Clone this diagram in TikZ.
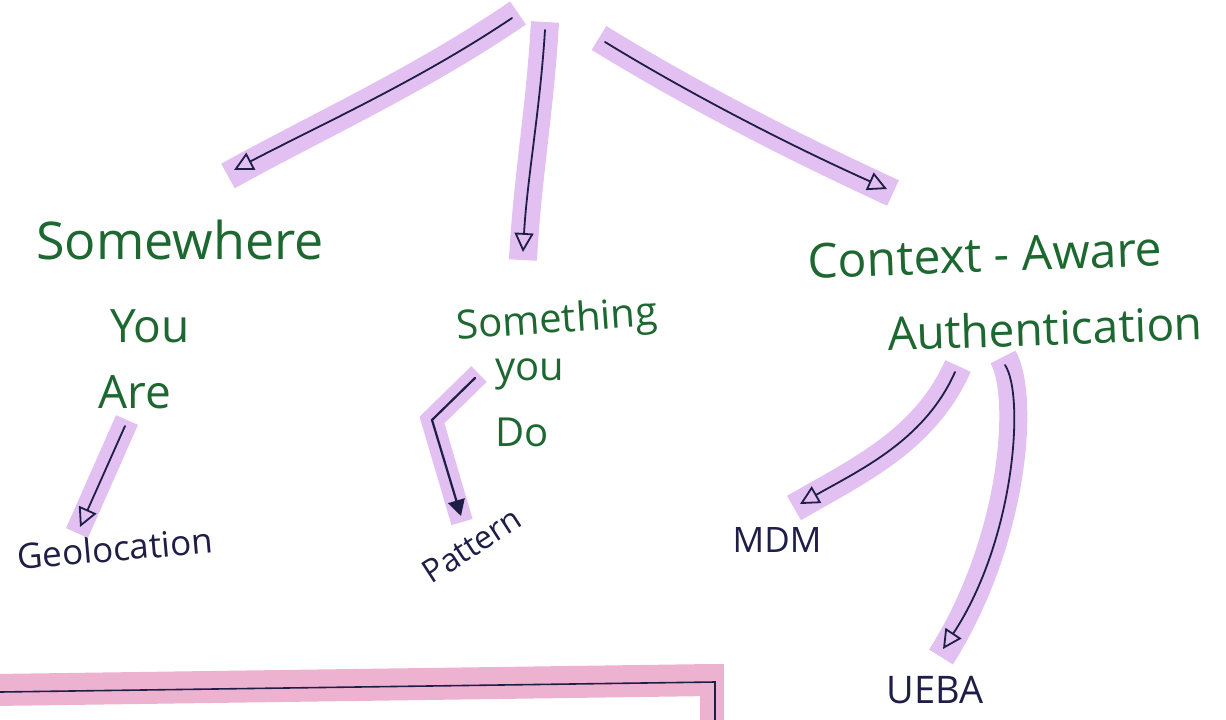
\documentclass[tikz,border=0pt]{standalone}
\usepackage{fontspec}
\setmainfont{Open Sans}
\usetikzlibrary{arrows.meta}
\definecolor{ink}{RGB}{28,104,48}
\definecolor{pen}{RGB}{30,30,72}
\definecolor{lav}{RGB}{226,192,242}
\definecolor{rose}{RGB}{236,178,208}
\begin{document}
\begin{tikzpicture}[x=1pt,y=-1pt,
  lbl/.style={font=\fontsize{#1}{#1}\selectfont, text=ink, inner sep=0pt},
  sub/.style={font=\fontsize{#1}{#1}\selectfont, text=pen, inner sep=0pt},
  band/.style={draw=lav, line width=28pt, line cap=butt},
  arr/.style={draw=pen, line width=1.8pt, line cap=round,
    -{Triangle[open,length=19pt,width=19pt,line width=1.8pt]}},
  farr/.style={draw=pen, line width=2.2pt, line cap=round,
    -{Triangle[length=16pt,width=17pt]}}
]
\useasboundingbox[fill=white] (0,0) rectangle (1226,720);

% green category labels
\node[lbl=52] (some1) at (180,240) {Somewhere};
\node[lbl=46] (some2) at (150,326) {You};
\node[lbl=46] (some3) at (135,392) {Are};
\node[lbl=40, rotate=4] (thing1) at (557,322) {Something};
\node[lbl=40] (thing2) at (530,374) {you};
\node[lbl=40] (thing3) at (522,432) {Do};
\node[lbl=48, rotate=2] (ctx1) at (985,255) {Context - Aware};
\node[lbl=46, rotate=2] (ctx2) at (1045,328) {Authentication};

% dark leaf labels
\node[sub=35, rotate=5] (geo) at (115,548) {Geolocation};
\node[sub=32, rotate=33] (pat) at (472,545) {Pattern};
\node[sub=35] (mdm) at (777,540) {MDM};
\node[sub=38] (ueba) at (935,690) {UEBA};

% arrow end points
\coordinate (top1) at (512,18);
\coordinate (top2) at (545,30);
\coordinate (top3) at (605,42);
\coordinate (e1) at (234,170);
\coordinate (e2) at (523,252);
\coordinate (e3) at (887,189);
\coordinate (g0) at (125,426);
\coordinate (g1) at (80,527);
\coordinate (p0) at (475,378);
\coordinate (pk) at (432,420);
\coordinate (p1) at (461,516);
\coordinate (m0) at (955,372);
\coordinate (m1) at (800,504);
\coordinate (u0) at (1005,365);
\coordinate (u1) at (943,649);

% highlighter bands under the arrows
\draw[band] ([shift={(6,-5)}]top1) .. controls (420,80) and (320,125) .. ([shift={(-6,6)}]e1);
\draw[band] ([shift={(0,-8)}]top2) .. controls (540,110) and (527,180) .. ([shift={(0,8)}]e2);
\draw[band] ([shift={(-6,-4)}]top3) .. controls (700,100) and (800,150) .. ([shift={(6,4)}]e3);
\draw[band, line width=24pt] ([shift={(2,-6)}]g0) -- ([shift={(-3,6)}]g1);
\draw[band, line width=22pt] ([shift={(4,-4)}]p0) -- (pk) -- ([shift={(1,6)}]p1);
\draw[band] ([shift={(3,-6)}]m0) .. controls (925,440) and (860,470) .. ([shift={(-6,4)}]m1);
\draw[band] ([shift={(-2,-8)}]u0) .. controls (1025,395) and (1015,540) .. ([shift={(-2,8)}]u1);

% top-level arrows
\draw[arr] (top1) .. controls (420,80) and (320,125) .. (e1);
\draw[arr] (top2) .. controls (540,110) and (527,180) .. (e2);
\draw[arr] (top3) .. controls (700,100) and (800,150) .. (e3);

% second-level arrows
\draw[arr] (g0) -- (g1);
\draw[farr] (p0) -- (pk) -- (p1);
\draw[arr] (m0) .. controls (925,440) and (860,470) .. (m1);
\draw[arr] (u0) .. controls (1025,395) and (1015,540) .. (u1);

% bottom frame edge
\coordinate (b0) at (0,692);
\coordinate (b1) at (715,682);
\coordinate (b2) at (715,720);
\draw[rose, line width=32pt, line cap=butt] (-5,690) -- (712,680);
\draw[rose, line width=24pt, line cap=butt] (712,664) -- (712,720);
\draw[pen, line width=1.6pt] (b0) -- (b1) -- (b2);
\end{tikzpicture}
\end{document}
